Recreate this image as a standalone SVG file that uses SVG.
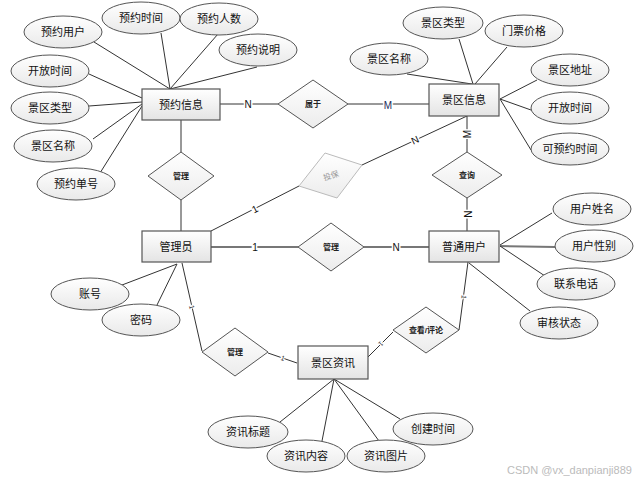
<svg xmlns="http://www.w3.org/2000/svg" width="637" height="482" viewBox="0 0 637 482">
<defs>
<linearGradient id="gEnt" x1="0" y1="0" x2="0" y2="1"><stop offset="0" stop-color="#ffffff"/><stop offset="1" stop-color="#e4e4e4"/></linearGradient>
<linearGradient id="gEl" x1="0" y1="0" x2="0" y2="1"><stop offset="0" stop-color="#ffffff"/><stop offset="1" stop-color="#e9e9e9"/></linearGradient>
<linearGradient id="gDia" x1="0" y1="0" x2="0" y2="1"><stop offset="0" stop-color="#ffffff"/><stop offset="1" stop-color="#ececec"/></linearGradient>
<style>
.ent{fill:url(#gEnt);stroke:#555;stroke-width:1.2}
.att{fill:url(#gEl);stroke:#555;stroke-width:1}
.rel{fill:url(#gDia);stroke:#555;stroke-width:1}
.ghost{fill:url(#gDia);stroke:#bbb;stroke-width:1}
.t{font-family:"Liberation Sans","Noto Sans CJK SC",sans-serif;font-size:11px;fill:#111;text-anchor:middle;dominant-baseline:central}
.rt{font-family:"Liberation Sans","Noto Sans CJK SC",sans-serif;font-size:8px;font-weight:bold;fill:#222;text-anchor:middle;dominant-baseline:central}
.gt{font-family:"Liberation Sans","Noto Sans CJK SC",sans-serif;font-size:8px;fill:#999;text-anchor:middle;dominant-baseline:central}
.lb{font-family:"Liberation Sans",sans-serif;font-size:10px;fill:#111;text-anchor:middle;dominant-baseline:central;stroke:#fff;stroke-width:3;paint-order:stroke}
.sl{font-family:"Liberation Sans",sans-serif;font-size:7px;fill:#333;text-anchor:middle;dominant-baseline:central;stroke:#fff;stroke-width:2;paint-order:stroke}
.ln{stroke:#333;stroke-width:1;fill:none}
.lg{stroke:#777;stroke-width:2;fill:none}
.wm{font-family:"Liberation Sans",sans-serif;font-size:11px;fill:#bbb}
</style>
</defs>
<g id="connectors">
<line class="ln" x1="94" y1="42" x2="170" y2="89"/>
<line class="ln" x1="161" y1="33" x2="170" y2="89"/>
<line class="ln" x1="218" y1="34" x2="170" y2="89"/>
<line class="ln" x1="257" y1="67" x2="170" y2="89"/>
<line class="ln" x1="89" y1="74" x2="142" y2="98"/>
<line class="ln" x1="89" y1="106" x2="142" y2="102"/>
<line class="ln" x1="93" y1="139" x2="142" y2="104"/>
<line class="ln" x1="100" y1="173" x2="142" y2="106"/>
<line class="ln" x1="459" y1="39" x2="473" y2="84" stroke-width="1.5"/>
<line class="ln" x1="507" y1="47" x2="475" y2="84"/>
<line class="ln" x1="407" y1="74" x2="472" y2="84"/>
<line class="ln" x1="537" y1="80" x2="500" y2="99"/>
<line class="ln" x1="531" y1="110" x2="500" y2="99" stroke-width="1.5"/>
<line class="ln" x1="531" y1="150" x2="500" y2="99"/>
<line class="ln" x1="220" y1="104" x2="278" y2="104"/>
<line class="ln" x1="348" y1="104" x2="429" y2="104"/>
<line class="ln" x1="181" y1="120" x2="181" y2="152"/>
<line class="ln" x1="181" y1="200" x2="181" y2="231"/>
<line class="ln" x1="211" y1="231" x2="299" y2="186"/>
<line class="ln" x1="362" y1="165" x2="467" y2="116"/>
<line class="ln" x1="467" y1="116" x2="467" y2="152"/>
<line class="ln" x1="467" y1="198" x2="467" y2="231"/>
<line class="lg" x1="211" y1="247" x2="298" y2="247"/>
<line class="lg" x1="364" y1="247" x2="429" y2="247"/>
<line class="ln" x1="177" y1="264" x2="122" y2="285"/>
<line class="ln" x1="177" y1="264" x2="157" y2="305"/>
<line class="ln" x1="500" y1="245" x2="552" y2="213"/>
<line class="lg" x1="500" y1="246" x2="555" y2="247"/>
<line class="ln" x1="500" y1="246" x2="545" y2="276"/>
<line class="ln" x1="469" y1="263" x2="530" y2="311"/>
<line class="ln" x1="468" y1="262" x2="459" y2="330"/>
<line class="ln" x1="393" y1="332" x2="367" y2="358"/>
<line class="ln" x1="182" y1="263" x2="202" y2="351"/>
<line class="ln" x1="268" y1="353" x2="297" y2="363"/>
<line class="ln" x1="334" y1="379" x2="280" y2="422"/>
<line class="ln" x1="334" y1="379" x2="322" y2="441"/>
<line class="ln" x1="334" y1="379" x2="379" y2="441"/>
<line class="ln" x1="334" y1="379" x2="400" y2="419"/>
<text class="lb" x="248" y="104">N</text>
<text class="lb" x="388" y="105" style="fill:#1a2a5a">M</text>
<text class="lb" x="255" y="209" transform="rotate(-27 255 209)">1</text>
<text class="lb" x="415" y="140" transform="rotate(-25 415 140)">N</text>
<text class="lb" x="467" y="134" transform="rotate(-90 467 134)">M</text>
<text class="lb" x="467" y="214" transform="rotate(90 467 214)">N</text>
<text class="lb" x="255" y="247">1</text>
<text class="lb" x="396" y="247">N</text>
<text class="sl" x="464" y="297" transform="rotate(98 464 297)">1</text>
<text class="sl" x="381" y="344" transform="rotate(135 381 344)">1</text>
<text class="sl" x="192" y="307" transform="rotate(77 192 307)">1</text>
<text class="sl" x="283" y="358" transform="rotate(19 283 358)">1</text>
</g>
<g id="e_yuyue"><rect class="ent" x="142" y="89" width="78" height="31"/><text class="t" x="181" y="105">预约信息</text></g>
<g id="e_jingqu"><rect class="ent" x="429" y="84" width="70" height="32"/><text class="t" x="464" y="100">景区信息</text></g>
<g id="e_admin"><rect class="ent" x="142" y="231" width="69" height="31"/><text class="t" x="176" y="247">管理员</text></g>
<g id="e_user"><rect class="ent" x="429" y="231" width="70" height="31"/><text class="t" x="464" y="247">普通用户</text></g>
<g id="e_news"><rect class="ent" x="298" y="346" width="70" height="33"/><text class="t" x="333" y="363">景区资讯</text></g>
<g id="r_shuyu"><polygon class="rel" points="278,104 313,80 348,104 313,128"/><text class="rt" x="313" y="104" font-weight="normal">属于</text></g>
<g id="r_guanli1"><polygon class="rel" points="148,176 181,152 214,176 181,200"/><text class="rt" x="181" y="176">管理</text></g>
<g id="r_toubao"><polygon class="ghost" points="299,186 325,153 362,165 337,198"/><text class="gt" x="331" y="176" transform="rotate(-18 331 176)">投保</text></g>
<g id="r_chaxun"><polygon class="rel" points="432,175 467,152 502,175 467,198"/><text class="rt" x="467" y="175">查询</text></g>
<g id="r_guanli2"><polygon class="rel" points="298,247 331,223 364,247 331,271"/><text class="rt" x="331" y="247">管理</text></g>
<g id="r_pinglun"><polygon class="rel" points="393,330 426,307 459,330 426,353"/><text class="rt" x="426" y="330" font-weight="normal">查看/评论</text></g>
<g id="r_guanli3"><polygon class="rel" points="202,352 235,328 268,352 235,376"/><text class="rt" x="235" y="352">管理</text></g>
<g id="a_yuyue_user"><ellipse class="att" cx="63" cy="32" rx="39" ry="16"/><text class="t" x="63" y="32">预约用户</text></g>
<g id="a_yuyue_time"><ellipse class="att" cx="141" cy="18" rx="39" ry="16"/><text class="t" x="141" y="18">预约时间</text></g>
<g id="a_yuyue_num"><ellipse class="att" cx="219" cy="19" rx="39" ry="16"/><text class="t" x="219" y="19">预约人数</text></g>
<g id="a_yuyue_desc"><ellipse class="att" cx="258" cy="50" rx="39" ry="16"/><text class="t" x="258" y="50">预约说明</text></g>
<g id="a_yuyue_open"><ellipse class="att" cx="50" cy="71" rx="39" ry="16"/><text class="t" x="50" y="71">开放时间</text></g>
<g id="a_yuyue_type"><ellipse class="att" cx="50" cy="108" rx="39" ry="16"/><text class="t" x="50" y="108">景区类型</text></g>
<g id="a_yuyue_name"><ellipse class="att" cx="53" cy="146" rx="39" ry="16"/><text class="t" x="53" y="146">景区名称</text></g>
<g id="a_yuyue_no"><ellipse class="att" cx="76" cy="184" rx="39" ry="16"/><text class="t" x="76" y="184">预约单号</text></g>
<g id="a_jq_type"><ellipse class="att" cx="443" cy="23" rx="40" ry="16"/><text class="t" x="443" y="23">景区类型</text></g>
<g id="a_jq_price"><ellipse class="att" cx="524" cy="31" rx="39" ry="16"/><text class="t" x="524" y="31">门票价格</text></g>
<g id="a_jq_name"><ellipse class="att" cx="389" cy="59" rx="39" ry="16"/><text class="t" x="389" y="59">景区名称</text></g>
<g id="a_jq_addr"><ellipse class="att" cx="570" cy="70" rx="39" ry="16"/><text class="t" x="570" y="70">景区地址</text></g>
<g id="a_jq_open"><ellipse class="att" cx="570" cy="108" rx="39" ry="16"/><text class="t" x="570" y="108">开放时间</text></g>
<g id="a_jq_book"><ellipse class="att" cx="570" cy="149" rx="39" ry="16"/><text class="t" x="570" y="149">可预约时间</text></g>
<g id="a_u_name"><ellipse class="att" cx="592" cy="209" rx="39" ry="16"/><text class="t" x="592" y="209">用户姓名</text></g>
<g id="a_u_sex"><ellipse class="att" cx="594" cy="246" rx="39" ry="16"/><text class="t" x="594" y="246">用户性别</text></g>
<g id="a_u_tel"><ellipse class="att" cx="576" cy="284" rx="39" ry="16"/><text class="t" x="576" y="284">联系电话</text></g>
<g id="a_u_state"><ellipse class="att" cx="559" cy="323" rx="39" ry="16"/><text class="t" x="559" y="323">审核状态</text></g>
<g id="a_ad_acc"><ellipse class="att" cx="90" cy="294" rx="39" ry="16"/><text class="t" x="90" y="294">账号</text></g>
<g id="a_ad_pwd"><ellipse class="att" cx="141" cy="320" rx="39" ry="16"/><text class="t" x="141" y="320">密码</text></g>
<g id="a_n_title"><ellipse class="att" cx="248" cy="432" rx="40" ry="16"/><text class="t" x="248" y="432">资讯标题</text></g>
<g id="a_n_content"><ellipse class="att" cx="306" cy="456" rx="39" ry="16"/><text class="t" x="306" y="456">资讯内容</text></g>
<g id="a_n_img"><ellipse class="att" cx="386" cy="456" rx="39" ry="16"/><text class="t" x="386" y="456">资讯图片</text></g>
<g id="a_n_time"><ellipse class="att" cx="433" cy="429" rx="40" ry="16"/><text class="t" x="433" y="429">创建时间</text></g>
<text class="wm" x="507" y="474">CSDN @vx_danpianji889</text>
</svg>
